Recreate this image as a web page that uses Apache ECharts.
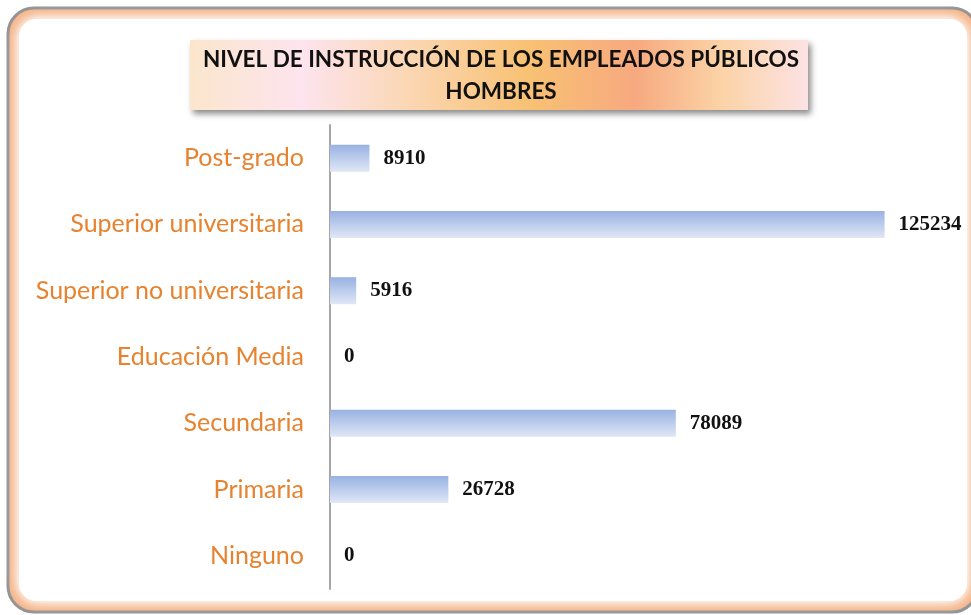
<!DOCTYPE html>
<html>
<head>
<meta charset="utf-8">
<script src="https://cdn.jsdelivr.net/npm/echarts@6/dist/echarts.min.js"></script>
<style>
  html, body { margin: 0; padding: 0; background: #fff; }
  #chart { width: 971px; height: 615px; }
</style>
</head>
<body>
<div id="chart"></div>
<script>
// categories from bottom to top (category axis draws first item at bottom)
const categories = ['Ninguno', 'Primaria', 'Secundaria', 'Educación Media', 'Superior no universitaria', 'Superior universitaria', 'Post-grado']
const values = [0, 26728, 78089, 0, 5916, 125234, 8910]
const titleLines = ['NIVEL DE INSTRUCCIÓN DE LOS EMPLEADOS PÚBLICOS', 'HOMBRES']

const chart = echarts.init(document.getElementById('chart'))

const option = {
  animation: false,
  graphic: [
    // outer frame with orange inner glow
    {
      type: 'rect', z: -10, silent: true,
      shape: { x: 8, y: 8, width: 970, height: 604, r: 26 },
      style: { fill: '#f4b183', stroke: '#8e8e8e', lineWidth: 3 }
    },
    {
      type: 'rect', z: -9, silent: true,
      shape: { x: 19, y: 19, width: 948, height: 582, r: 18 },
      style: { fill: '#ffffff', shadowBlur: 18, shadowColor: '#ffffff' }
    },
    {
      type: 'rect', z: -8, silent: true,
      shape: { x: 19, y: 19, width: 948, height: 582, r: 18 },
      style: { fill: '#ffffff', shadowBlur: 10, shadowColor: '#ffffff' }
    },
    // title box
    {
      type: 'rect', z: 5, silent: true,
      shape: { x: 190, y: 40, width: 618, height: 70 },
      style: {
        fill: new echarts.graphic.LinearGradient(0, 0, 1, 0, [
          { offset: 0, color: '#fbe6cc' },
          { offset: 0.18, color: '#fde4ee' },
          { offset: 0.35, color: '#fbd7b4' },
          { offset: 0.55, color: '#f8c173' },
          { offset: 0.72, color: '#f7a97f' },
          { offset: 0.86, color: '#fbd3a6' },
          { offset: 1, color: '#fde2e4' }
        ]),
        shadowBlur: 6,
        shadowOffsetX: 3,
        shadowOffsetY: 4,
        shadowColor: 'rgba(0,0,0,0.45)'
      }
    },
    {
      type: 'text', z: 6, silent: true,
      x: 501, y: 44,
      style: {
        text: titleLines.join('\n'),
        align: 'center',
        fill: '#111',
        font: 'bold 22.5px Lato, "Noto Sans", sans-serif',
        lineHeight: 32
      }
    }
  ],
  grid: {
    left: 330,
    top: 125,
    width: 620,
    height: 464,
    containLabel: false
  },
  xAxis: {
    type: 'value',
    min: 0,
    max: 140000,
    show: false
  },
  yAxis: {
    type: 'category',
    data: categories,
    axisLine: { show: true, lineStyle: { color: '#a6a6a6', width: 2 } },
    axisTick: { show: false },
    axisLabel: {
      color: '#e7822f',
      fontSize: 25,
      fontFamily: 'Lato, "Noto Sans", sans-serif',
      margin: 26
    }
  },
  series: [
    {
      type: 'bar',
      data: values,
      barWidth: 27,
      itemStyle: {
        color: new echarts.graphic.LinearGradient(0, 0, 0, 1, [
          { offset: 0, color: '#98b2e2' },
          { offset: 1, color: '#e0e7f6' }
        ])
      },
      label: {
        show: true,
        position: 'right',
        distance: 14,
        color: '#111',
        fontSize: 21,
        fontWeight: 'bold',
        fontFamily: '"Liberation Serif", "DejaVu Serif", serif'
      }
    }
  ]
}

chart.setOption(option)
</script>
</body>
</html>
